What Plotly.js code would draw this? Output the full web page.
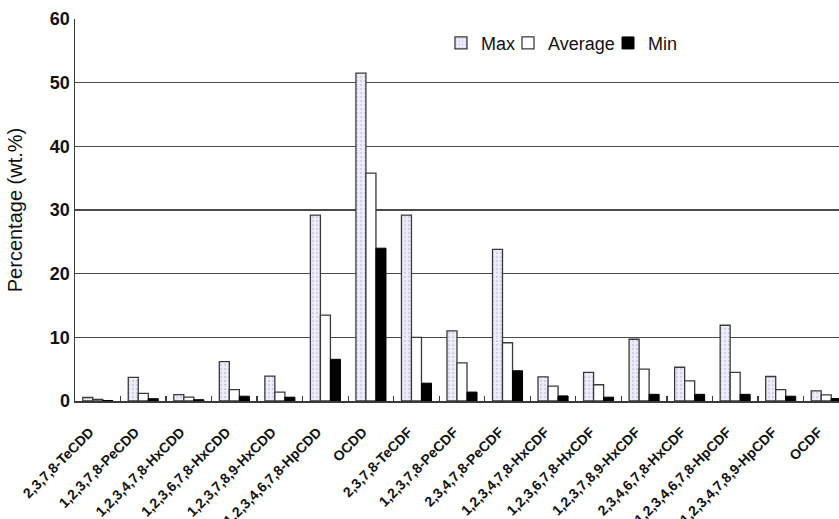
<!DOCTYPE html>
<html>
<head>
<meta charset="utf-8">
<script src="https://cdn.plot.ly/plotly-3.0.1.min.js"></script>
<style>
html, body { margin: 0; padding: 0; overflow: hidden; background: #fff; }
#chart { width: 860px; height: 519px; }
</style>
</head>
<body>
<div id="chart"></div>
<script>
const categories = [
  "2,3,7,8-TeCDD", "1,2,3,7,8-PeCDD", "1,2,3,4,7,8-HxCDD", "1,2,3,6,7,8-HxCDD",
  "1,2,3,7,8,9-HxCDD", "1,2,3,4,6,7,8-HpCDD", "OCDD", "2,3,7,8-TeCDF",
  "1,2,3,7,8-PeCDF", "2,3,4,7,8-PeCDF", "1,2,3,4,7,8-HxCDF", "1,2,3,6,7,8-HxCDF",
  "1,2,3,7,8,9-HxCDF", "2,3,4,6,7,8-HxCDF", "1,2,3,4,6,7,8-HpCDF", "1,2,3,4,7,8,9-HpCDF",
  "OCDF"
];
const maxValues = [0.55, 3.7, 1.0, 6.2, 3.9, 29.2, 51.5, 29.2, 11.0, 23.8, 3.8, 4.5, 9.7, 5.3, 11.9, 3.85, 1.6];
const avgValues = [0.25, 1.2, 0.6, 1.8, 1.4, 13.5, 35.8, 10.0, 6.0, 9.15, 2.35, 2.55, 5.0, 3.15, 4.5, 1.8, 0.95];
const minValues = [0.08, 0.36, 0.2, 0.75, 0.6, 6.55, 24.0, 2.8, 1.4, 4.75, 0.8, 0.6, 1.05, 1.05, 1.05, 0.75, 0.38];
const yTicks = [0, 10, 20, 30, 40, 50, 60];

const lineCol = "#3a3a3a";
const plotLeft = 75, plotWidth = 774;
const px = v => (v - plotLeft) / plotWidth;

const traces = [
  {
    type: "bar", name: "Max", x: categories, y: maxValues, legend: "legend",
    marker: {
      color: "#ececfa",
      line: { color: lineCol, width: 1.3 },
      pattern: { shape: ".", bgcolor: "#eeeefb", fgcolor: "#cfcfe6", size: 4, solidity: 0.25 }
    }
  },
  {
    type: "bar", name: "Average", x: categories, y: avgValues, legend: "legend2",
    marker: { color: "#ffffff", line: { color: lineCol, width: 1.3 } }
  },
  {
    type: "bar", name: "Min", x: categories, y: minValues, legend: "legend3",
    marker: { color: "#000000", line: { color: "#000000", width: 1 } }
  }
];

const legFont = { family: "Liberation Sans, Arial, sans-serif", size: 18, color: "#111" };
const legBase = { orientation: "h", y: 0.985, xanchor: "left", yanchor: "top",
  font: legFont, bgcolor: "rgba(0,0,0,0)", itemwidth: 30 };

const layout = {
  width: 860, height: 519,
  margin: { l: plotLeft, r: 860 - plotLeft - plotWidth, t: 19, b: 118 },
  paper_bgcolor: "#ffffff", plot_bgcolor: "#ffffff",
  barmode: "group", bargap: 0.34, bargroupgap: 0,
  showlegend: true,
  legend: Object.assign({}, legBase, { x: px(441) }),
  legend2: Object.assign({}, legBase, { x: px(508) }),
  legend3: Object.assign({}, legBase, { x: px(608) }),
  xaxis: {
    type: "category", range: [-0.5, 16.5],
    showline: true, linecolor: lineCol, linewidth: 1.5,
    ticks: "inside", tickson: "boundaries", ticklen: 5, tickcolor: lineCol, tickwidth: 1.3,
    tickangle: -45,
    tickfont: { family: "Liberation Sans, Arial, sans-serif", size: 14, color: "#111", weight: "bold" },
    ticklabelstandoff: 16,
    ticklabelshift: -8,
    showgrid: false, zeroline: false
  },
  yaxis: {
    range: [0, 60], tickvals: yTicks, ticktext: yTicks.map(String),
    showline: true, linecolor: lineCol, linewidth: 1.5,
    ticks: "", showgrid: true, gridcolor: "#4a4a4a", gridwidth: 1.3, zeroline: false,
    tickfont: { family: "Liberation Sans, Arial, sans-serif", size: 18, color: "#111", weight: "bold" },
    ticklabelstandoff: 0,
    title: { text: "Percentage (wt.%)", standoff: 22,
      font: { family: "Liberation Sans, Arial, sans-serif", size: 20, color: "#111" } }
  }
};

Plotly.newPlot("chart", traces, layout, { displayModeBar: false, staticPlot: true });
</script>
</body>
</html>
